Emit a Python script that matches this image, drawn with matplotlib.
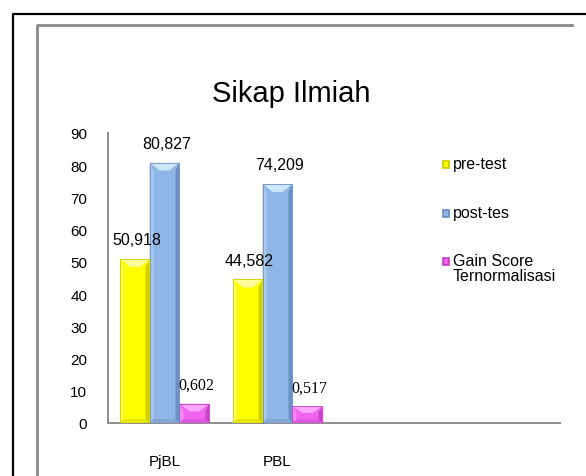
import numpy as np
import matplotlib
matplotlib.use('Agg')
import matplotlib.pyplot as plt
from matplotlib.patches import Polygon, Rectangle
from matplotlib.lines import Line2D

plt.rcParams['font.family'] = ['Liberation Sans', 'DejaVu Sans']

# data
categories = ['PjBL', 'PBL']
series_names = ['pre-test', 'post-tes', 'Gain Score\nTernormalisasi']
pre_test = [50.918, 44.582]
post_tes = [80.827, 74.209]
gain_score = [0.602, 0.517]   # plotted x10 in the original chart
gain_plot = [v * 10 for v in gain_score]
yticks = [0, 10, 20, 30, 40, 50, 60, 70, 80, 90]

W, H = 586, 477
fig = plt.figure(figsize=(W / 100, H / 100), dpi=100)

def fx(px):
    return px / W

def fy(py):
    return 1 - py / H

# frames around the chart
fig.add_artist(Line2D([fx(12.7), fx(12.7), fx(586)], [fy(477), fy(14.8), fy(14.8)],
                      color='black', lw=1.6, transform=fig.transFigure))
fig.add_artist(Line2D([fx(36.7), fx(36.7), fx(572)], [fy(477), fy(26), fy(26)],
                      color='#8a8a8a', lw=2.0, transform=fig.transFigure))

ax = fig.add_axes([fx(108), fy(424), (560 - 108) / W, (424 - 134) / H])
ax.set_xlim(-0.5, 3.5)
ax.set_ylim(0, 90)

# colours: base, top facet, left facet, right facet, bottom facet
styles = [
    ('#ffff00', '#ffff9a', '#ffff50', '#cfcf00', '#e4e400'),
    ('#8fb5e6', '#cde7f8', '#a8c8ef', '#6d90c2', '#84a7d6'),
    ('#f064f0', '#ffa4ff', '#f688f6', '#c444c4', '#d858d8'),
]
label_fonts = ['Liberation Sans', 'Liberation Sans', 'Liberation Serif']
label_texts = [
    [f'{v:.3f}'.replace('.', ',') for v in pre_test],
    [f'{v:.3f}'.replace('.', ',') for v in post_tes],
    [f'{v:.3f}'.replace('.', ',') for v in gain_score],
]

x = np.arange(len(categories))
bw = 0.265
offsets = [-bw, 0, bw]
values = [pre_test, post_tes, gain_plot]

# pixel -> data unit conversions for the bevel
px_x = (ax.get_xlim()[1] - ax.get_xlim()[0]) / (560 - 108)
px_y = 90 / (424 - 134)

for s, vals in enumerate(values):
    base, top, left, right, bot = styles[s]
    bars = ax.bar(x + offsets[s], vals, width=bw, color=base, edgecolor='none', zorder=2)
    for b, txt in zip(bars, label_texts[s]):
        x0, x1 = b.get_x(), b.get_x() + b.get_width()
        y0, y1 = 0, b.get_height()
        tdy = min(8 * px_y, (y1 - y0) * 0.4)
        tdx = 10 * px_x
        sdx = 4 * px_x
        bdy = min(4 * px_y, (y1 - y0) * 0.2)
        ax.add_patch(Polygon([(x0, y0), (x0, y1), (x0 + sdx, y1 - tdy), (x0 + sdx, y0 + bdy)],
                             closed=True, color=left, lw=0, zorder=3))
        ax.add_patch(Polygon([(x1, y0), (x1, y1), (x1 - sdx, y1 - tdy), (x1 - sdx, y0 + bdy)],
                             closed=True, color=right, lw=0, zorder=3))
        ax.add_patch(Polygon([(x0, y0), (x1, y0), (x1 - sdx, y0 + bdy), (x0 + sdx, y0 + bdy)],
                             closed=True, color=bot, lw=0, zorder=3))
        ax.add_patch(Polygon([(x0, y1), (x1, y1), (x1 - tdx, y1 - tdy), (x0 + tdx, y1 - tdy)],
                             closed=True, color=top, lw=0, zorder=3))
        ax.add_patch(Rectangle((x0, y0), x1 - x0, y1 - y0, fill=False,
                               edgecolor=right, lw=0.6, zorder=4))
        ax.annotate(txt, (b.get_x() + b.get_width() / 2, y1), xytext=(2, 19),
                    textcoords='offset pixels', ha='center', va='center',
                    fontsize=11.5, family=label_fonts[s], zorder=5)

ax.set_xticks(x)
ax.set_xticklabels(categories, fontsize=11)
ax.set_yticks(yticks)
ax.set_yticklabels([str(t) for t in yticks], fontsize=11)
ax.tick_params(axis='x', length=0, pad=22)
ax.tick_params(axis='y', length=0, pad=15)
for sp in ['top', 'right']:
    ax.spines[sp].set_visible(False)
for sp in ['left', 'bottom']:
    ax.spines[sp].set_color('#8c8c8c')
    ax.spines[sp].set_linewidth(1.4)

fig.text(fx(291), fy(94), 'Sikap Ilmiah', fontsize=21, ha='center', va='center')

# legend drawn by hand to keep marker on first line
leg_y = [165, 214, 262]
for s, name in enumerate(series_names):
    base, top, left, right, bot = styles[s]
    fig.add_artist(Rectangle((fx(442), fy(leg_y[s] + 4)), 7 / W, 8 / H, transform=fig.transFigure,
                             facecolor=right, edgecolor=right, lw=0.5))
    fig.add_artist(Rectangle((fx(443.5), fy(leg_y[s] + 2.5)), 4 / W, 5 / H, transform=fig.transFigure,
                             facecolor=base, edgecolor='none'))
    fig.text(fx(453), fy(leg_y[s] - 8), name, fontsize=11.5, ha='left', va='top',
             linespacing=1.0)

fig.savefig('out.png', dpi=100)
